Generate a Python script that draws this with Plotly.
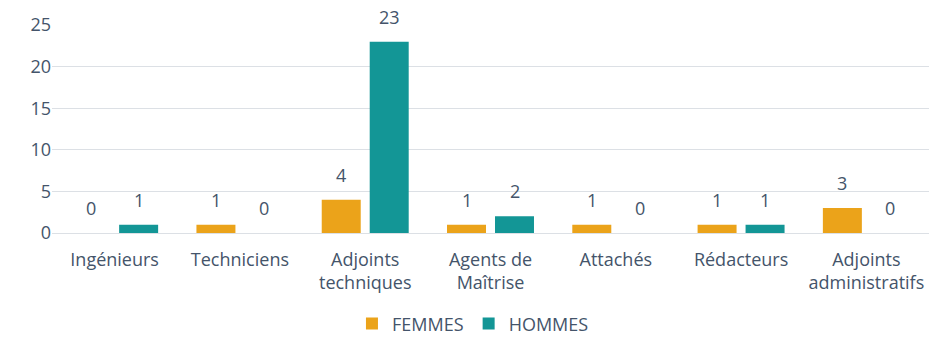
import plotly.graph_objects as go

categories = ["Ingénieurs", "Techniciens", "Adjoints<br>techniques", "Agents de<br>Maîtrise",
              "Attachés", "Rédacteurs", "Adjoints<br>administratifs"]
femmes = [0, 1, 4, 1, 1, 1, 3]
hommes = [1, 0, 23, 2, 0, 1, 0]
y_ticks = [0, 5, 10, 15, 20, 25]

COL_F = "#EBA31A"
COL_H = "#139696"
TXT = "#44546A"
FONT = "Open Sans"
FS = 18

fig = go.Figure()
fig.add_trace(go.Bar(x=categories, y=femmes, name="FEMMES", marker_color=COL_F,
                     marker_line_width=0))
fig.add_trace(go.Bar(x=categories, y=hommes, name="HOMMES", marker_color=COL_H,
                     marker_line_width=0))

# value labels above each bar
for vals, shift in ((femmes, -24), (hommes, 24)):
    for cat, v in zip(categories, vals):
        fig.add_annotation(x=cat, y=v, text=str(v), showarrow=False,
                           xshift=shift, yshift=11, yanchor="bottom",
                           font=dict(family=FONT, size=FS, color=TXT))

fig.update_layout(
    width=929, height=338,
    margin=dict(l=52, r=0, t=25, b=105),
    paper_bgcolor="white", plot_bgcolor="white",
    barmode="group", bargap=0.234, bargroupgap=0.1875,
    font=dict(family=FONT, size=FS, color=TXT),
    showlegend=True,
    legend=dict(orientation="h", x=0.48, xanchor="center", yref="container",
                y=0.042, yanchor="middle",
                font=dict(family=FONT, size=FS, color=TXT), itemwidth=30,
                traceorder="normal"),
)
fig.update_yaxes(range=[0, 25], tickvals=y_ticks, showgrid=True, gridcolor="#DCE0E5",
                 gridwidth=1, zeroline=True, zerolinecolor="#DCE0E5", zerolinewidth=1,
                 showline=False, ticks="", tickfont=dict(family=FONT, size=FS, color=TXT))
fig.update_xaxes(showline=False, ticks="", tickangle=0, ticklabelstandoff=14,
                 tickfont=dict(family=FONT, size=FS, color=TXT))

fig.write_html("out.html")
